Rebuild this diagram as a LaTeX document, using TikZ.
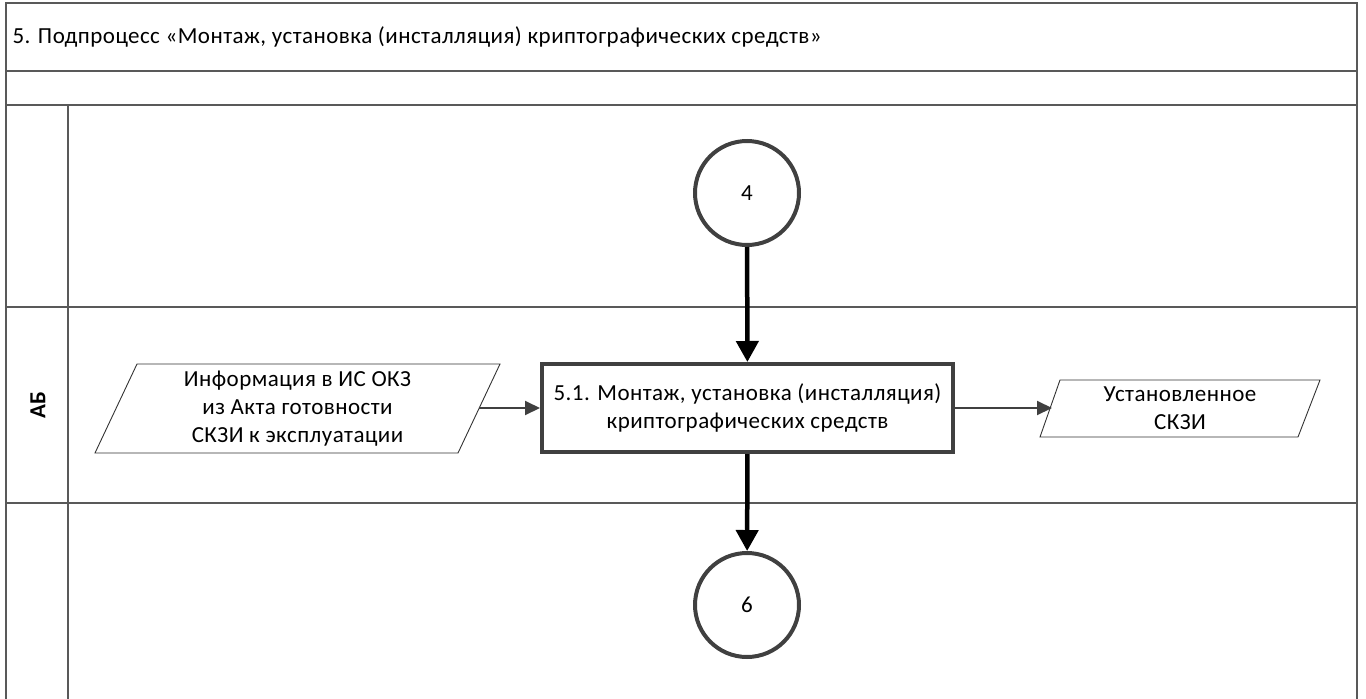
\documentclass[tikz,border=0pt]{standalone}
\usepackage{fontspec}
\setmainfont[LetterSpace=2]{Carlito}
\usetikzlibrary{arrows.meta}
\begin{document}
\begin{tikzpicture}[x=1pt,y=-1pt,
  frame/.style={draw=black!65,line width=2pt},
  lbl/.style={font=\fontsize{23}{28}\selectfont,align=center,text=black},
  circ/.style={circle,draw=black!75,line width=4pt,minimum size=104pt,inner sep=0pt,font=\fontsize{23}{28}\selectfont},
  procbox/.style={draw=black!75,line width=4pt,minimum width=411pt,minimum height=88pt,align=center,font=\fontsize{23}{28}\selectfont},
  para/.style={draw=black!80,line width=0.9pt},
  thickarr/.style={line width=4.5pt,-{Triangle[length=21pt,width=22pt]}},
  thinarr/.style={draw=black!75,line width=2pt,-{Triangle[length=15pt,width=14pt]}}
]
\useasboundingbox (0,0) rectangle (1366,699);
% frame
\draw[frame] (6,699) -- (6,3) -- (1357,3) -- (1357,699);
\draw[frame] (6,71) -- (1357,71);
\draw[frame] (6,105) -- (1357,105);
\draw[frame] (6,307) -- (1357,307);
\draw[frame] (6,503) -- (1357,503);
\draw[frame] (68,105) -- (68,699);
\node[anchor=west,lbl] (title) at (9,37) {5. Подпроцесс «Монтаж, установка (инсталляция) криптографических средств»};
\node[rotate=90,font=\fontsize{23}{28}\selectfont\bfseries] (lane) at (38,405) {АБ};
% nodes
\node[circ] (c4) at (747,193) {4};
\node[procbox] (p51) at (747.5,408) {5.1. Монтаж, установка (инсталляция)\\криптографических средств};
\node[circ] (c6) at (747,605) {6};
% input parallelogram
\draw[para] (137,364) -- (500,364) -- (458,453) -- (95,453) -- cycle;
\node[lbl] (inp) at (297.5,408.5) {Информация в ИС ОКЗ\\из Акта готовности\\СКЗИ к эксплуатации};
\coordinate (inpR) at (479,408);
% output parallelogram
\draw[para] (1060,380) -- (1320,380) -- (1298,437) -- (1040,437) -- cycle;
\node[lbl] (outp) at (1180,408.5) {Установленное\\СКЗИ};
\coordinate (outpL) at (1052,408);
% connectors
\draw[thickarr] (c4) -- (p51);
\draw[thickarr] (p51) -- (c6);
\draw[thinarr] (inpR) -- (p51.west);
\draw[thinarr] (p51.east) -- (outpL);
\end{tikzpicture}
\end{document}
